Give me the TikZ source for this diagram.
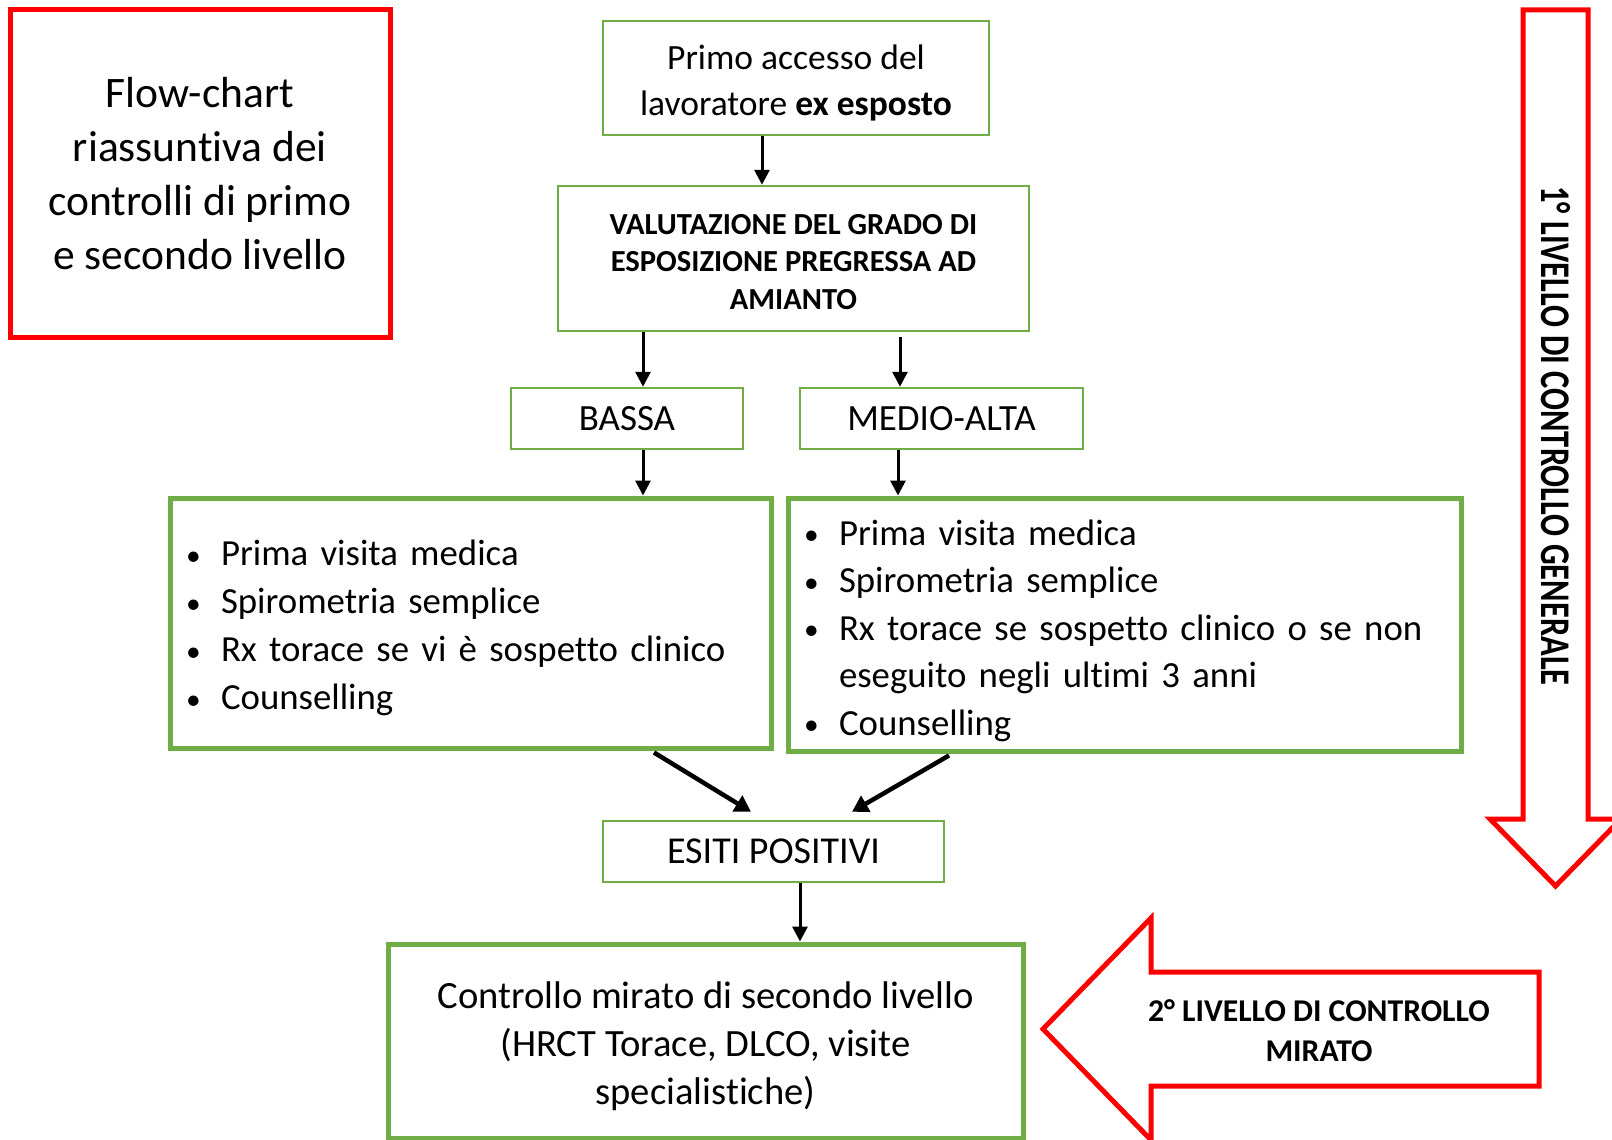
\documentclass[tikz,border=0pt]{standalone}
\usepackage{fontspec}
\usepackage{graphicx}
\setmainfont{Carlito}[Ligatures=NoCommon]
\usetikzlibrary{arrows.meta}
\definecolor{gr}{HTML}{70AD47}
\definecolor{rd}{HTML}{FF0000}
\newcommand{\bl}{\makebox[35pt][l]{\raisebox{0.5pt}{\scalebox{0.8}{\textbullet}}}}
\newcommand{\up}[1]{\rule{0pt}{#1}}
\begin{document}
\begin{tikzpicture}[x=1pt,y=-1pt,
  redbox/.style={draw=rd, line width=5pt, inner sep=0pt},
  thinbox/.style={draw=gr, line width=2.5pt, inner sep=0pt, align=center},
  thickbox/.style={draw=gr, line width=5pt, inner sep=0pt},
  redarrow/.style={draw=rd, line width=5pt, fill=white, line join=miter},
  arr/.style={line width=3pt, -{Triangle[length=15pt,width=15pt]}},
  darr/.style={line width=4.5pt, -{Triangle[length=16pt,width=18pt]}}
]
\useasboundingbox (0,0) rectangle (1612,1140);
\fill[white] (0,0) rectangle (1612,1140);

% title box
\node[redbox, minimum width=380pt, minimum height=327pt, align=center,
  font=\fontsize{43.5}{54}\selectfont] (title) at (200,173.5)
  {Flow-chart\\riassuntiva dei\\controlli di primo\\e secondo livello};

% flow nodes
\node[thinbox, minimum width=386pt, minimum height=114pt,
  font=\fontsize{35.5}{46}\selectfont] (primo) at (796,78)
  {\up{35pt}Primo accesso del\\lavoratore \textbf{ex esposto}};
\node[thinbox, minimum width=471pt, minimum height=145pt,
  font=\bfseries\fontsize{30.6}{37.5}\selectfont] (val) at (793.5,258.5)
  {\up{27pt}VALUTAZIONE DEL GRADO DI\\ESPOSIZIONE PREGRESSA AD\\AMIANTO};
\node[thinbox, minimum width=232pt, minimum height=61pt,
  font=\fontsize{37}{44}\selectfont] (bassa) at (627,418.5) {BASSA};
\node[thinbox, minimum width=283pt, minimum height=61pt,
  font=\fontsize{37}{44}\selectfont] (medio) at (941.5,418.5) {MEDIO-ALTA};

\node[thickbox, minimum height=250pt, inner xsep=16pt, text width=569pt, align=left,
  font=\fontsize{36.8}{48}\selectfont] (listL) at (470.5,623)
  {\up{36pt}\bl Prima visita medica\\\bl Spirometria semplice\\\bl Rx torace se vi è sospetto clinico\\\bl Counselling};
\node[thickbox, minimum height=253pt, inner xsep=16pt, text width=641pt, align=left,
  font=\fontsize{36.8}{47.5}\selectfont] (listR) at (1124.5,624.5)
  {\up{38pt}\bl Prima visita medica\\\bl Spirometria semplice\\\bl Rx torace se sospetto clinico o se non\\\hspace*{35pt}eseguito negli ultimi 3 anni\\\bl Counselling};

\node[thinbox, minimum width=341pt, minimum height=61pt,
  font=\fontsize{38}{44}\selectfont] (esiti) at (773.5,851.5) {ESITI POSITIVI};
\node[thickbox, minimum width=635pt, minimum height=194pt, align=center,
  font=\fontsize{38.6}{48}\selectfont] (ctrl) at (705.5,1041)
  {\up{38pt}Controllo mirato di secondo livello\\(HRCT Torace, DLCO, visite\\specialistiche)};

% connectors
\coordinate (xa) at (762,0);
\coordinate (xb) at (643,0);
\coordinate (xc) at (900,0);
\coordinate (xd) at (898,0);
\coordinate (xe) at (800,0);
\draw[arr] (primo.south -| xa) -- (val.north -| xa);
\draw[arr] (val.south -| xb) -- (bassa.north -| xb);
\draw[arr] ([yshift=-5pt]val.south -| xc) -- (medio.north -| xc);
\draw[arr] (bassa.south -| xb) -- (listL.north -| xb);
\draw[arr] (medio.south -| xd) -- (listR.north -| xd);
\draw[darr] ([xshift=183.5pt,yshift=-2pt]listL.south) -- ([xshift=-22.5pt,yshift=8pt]esiti.north);
\draw[darr] ([xshift=-175.5pt,yshift=-2pt]listR.south) -- ([xshift=78.5pt,yshift=8pt]esiti.north);
\draw[arr] (esiti.south -| xe) -- (ctrl.north -| xe);

% red arrows
\draw[redarrow] (1523,10) -- (1588,10) -- (1588,819) -- (1621,819) -- (1555.5,886)
  -- (1490,819) -- (1523,819) -- cycle;
\node[rotate=-90, font=\bfseries\fontsize{32.5}{32.5}\selectfont] (lvl1) at (1556,436)
  {\scalebox{1}[1.3]{1° LIVELLO DI CONTROLLO GENERALE}};

\draw[redarrow] (1539,972) -- (1151,972) -- (1151,918) -- (1043,1029) -- (1151,1140)
  -- (1151,1086) -- (1539,1086) -- cycle;
\node[align=center, font=\bfseries\fontsize{31.7}{40}\selectfont] (lvl2) at (1319,1031)
  {2° LIVELLO DI CONTROLLO\\MIRATO};
\end{tikzpicture}
\end{document}
